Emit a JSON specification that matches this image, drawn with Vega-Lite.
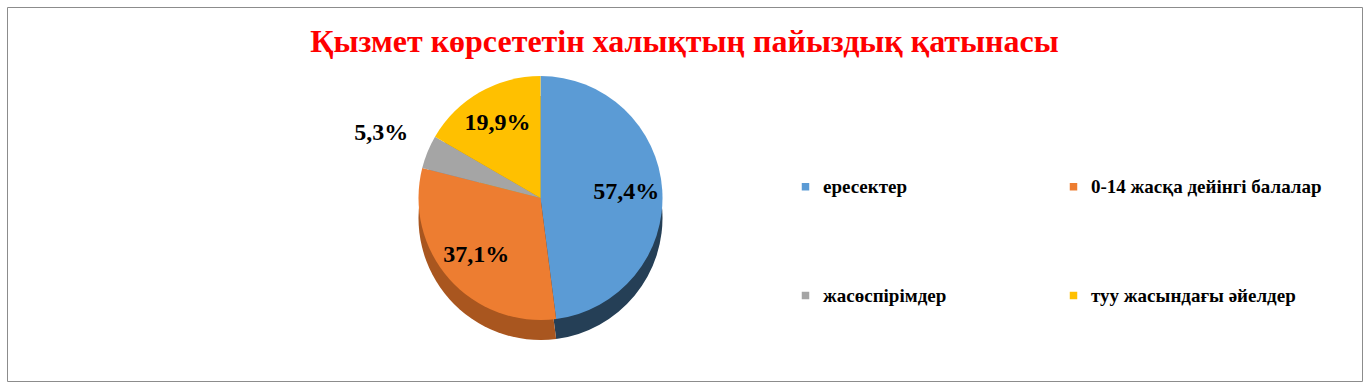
{
  "$schema": "https://vega.github.io/schema/vega-lite/v6.json",
  "width": 1355,
  "height": 374,
  "autosize": {"type": "none"},
  "padding": {"left": 7, "top": 7, "right": 8, "bottom": 10},
  "background": "white",
  "view": {"stroke": "#8c8c8c", "strokeWidth": 1},
  "config": {"view": {"stroke": "#8c8c8c", "strokeWidth": 1}},
  "title": {
    "text": "Қызмет көрсететін  халықтың пайыздық қатынасы",
    "color": "#FF0000",
    "font": "Liberation Serif",
    "fontSize": 32,
    "fontWeight": "bold",
    "anchor": "middle",
    "offset": -52
  },
  "data": {
    "values": [
      {"category": "ересектер", "value": 57.4, "label": "57,4%", "idx": 1, "pos": "in"},
      {"category": "0-14 жасқа  дейінгі балалар", "value": 37.1, "label": "37,1%", "idx": 2, "pos": "in"},
      {"category": "жасөспірімдер", "value": 5.3, "label": "5,3%", "idx": 3, "pos": "out"},
      {"category": "туу жасындағы  әйелдер", "value": 19.9, "label": "19,9%", "idx": 4, "pos": "in"}
    ]
  },
  "layer": [
    {
      "mark": {"type": "arc", "radius": 122, "xOffset": -144, "yOffset": 24},
      "encoding": {
        "theta": {"field": "value", "type": "quantitative", "stack": true},
        "order": {"field": "idx", "type": "quantitative"},
        "color": {
          "field": "category",
          "type": "nominal",
          "scale": {
            "domain": ["ересектер", "0-14 жасқа  дейінгі балалар", "жасөспірімдер", "туу жасындағы  әйелдер"],
            "range": ["#253F56", "#A9561F", "#7F7F7F", "#BF9000"]
          },
          "legend": null
        }
      }
    },
    {
      "mark": {"type": "arc", "radius": 122, "xOffset": -144, "yOffset": 4},
      "encoding": {
        "theta": {"field": "value", "type": "quantitative", "stack": true},
        "order": {"field": "idx", "type": "quantitative"},
        "color": {
          "field": "category",
          "type": "nominal",
          "scale": {
            "domain": ["ересектер", "0-14 жасқа  дейінгі балалар", "жасөспірімдер", "туу жасындағы  әйелдер"],
            "range": ["#5B9BD5", "#ED7D31", "#A5A5A5", "#FFC000"]
          },
          "legend": {
            "orient": "none",
            "direction": "horizontal",
            "legendX": 789,
            "legendY": 170,
            "columns": 2,
            "columnPadding": 117,
            "rowPadding": 89,
            "padding": 0,
            "title": null,
            "symbolType": "square",
            "symbolSize": 56,
            "symbolStrokeWidth": 0,
            "labelFont": "Liberation Serif",
            "labelFontSize": 19,
            "labelFontWeight": "bold",
            "labelColor": "black",
            "labelOffset": 8,
            "labelLimit": 400
          }
        }
      }
    },
    {
      "mark": {"type": "text", "radius": 86, "xOffset": -144, "yOffset": 4, "font": "Liberation Serif", "fontSize": 24, "fontWeight": "bold", "color": "black"},
      "encoding": {
        "theta": {"field": "value", "type": "quantitative", "stack": true},
        "order": {"field": "idx", "type": "quantitative"},
        "text": {"condition": {"test": "datum.pos == 'in'", "field": "label"}, "value": ""}
      }
    },
    {
      "mark": {"type": "text", "radius": 172, "xOffset": -144, "yOffset": 4, "font": "Liberation Serif", "fontSize": 24, "fontWeight": "bold", "color": "black"},
      "encoding": {
        "theta": {"field": "value", "type": "quantitative", "stack": true},
        "order": {"field": "idx", "type": "quantitative"},
        "text": {"condition": {"test": "datum.pos == 'out'", "field": "label"}, "value": ""}
      }
    }
  ],
  "resolve": {"scale": {"color": "independent"}}
}
